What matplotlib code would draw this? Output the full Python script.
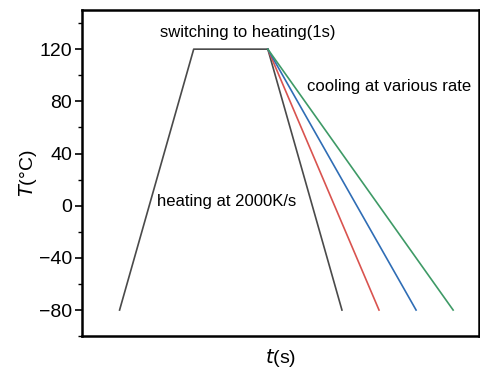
import matplotlib
matplotlib.use("Agg")
import matplotlib.pyplot as plt
from matplotlib.ticker import MultipleLocator

plt.rcParams['font.family'] = ['Liberation Sans', 'DejaVu Sans']

# heating ramp, holding plateau, then cooling branches
t_heat = [0, 1, 2]
T_heat = [-80, 120, 120]

t_cool_start = 2
t_cool_end = [3, 3.5, 4, 4.5]
cool_colors = ['#4a4a4a', '#d9534f', '#2f6db5', '#3e9a66']

T_top = 120
T_bottom = -80

fig = plt.figure(figsize=(4.81, 3.71), dpi=100)
ax = fig.add_axes([0.170, 0.094, 0.826, 0.879])

ax.plot(t_heat, T_heat, color='#4a4a4a', lw=1.2)
for te, c in zip(t_cool_end, cool_colors):
    ax.plot([t_cool_start, te], [T_top, T_bottom], color=c, lw=1.2)

ax.text(0.54, 133, 'switching to heating(1s)', fontsize=12, va='center')
ax.text(2.53, 91, 'cooling at various rate', fontsize=12, va='center')
ax.text(0.50, 3, 'heating at 2000K/s', fontsize=12, va='center')

ax.set_xlim(-0.51, 4.85)
ax.set_ylim(-100, 150)
ax.set_yticks([-80, -40, 0, 40, 80, 120])
ax.yaxis.set_minor_locator(MultipleLocator(20))
ax.set_xticks([])
ax.tick_params(axis='y', which='major', labelsize=14, length=5, width=1.2, pad=2)
ax.tick_params(axis='y', which='minor', length=3, width=1.0)

for s in ax.spines.values():
    s.set_linewidth(1.8)

ax.set_xlabel(r'$\it{t}$(s)', fontsize=14, labelpad=8)
ax.set_ylabel(r'$\it{T}$(°C)', fontsize=14, labelpad=0)

fig.savefig('out.png', dpi=100)
